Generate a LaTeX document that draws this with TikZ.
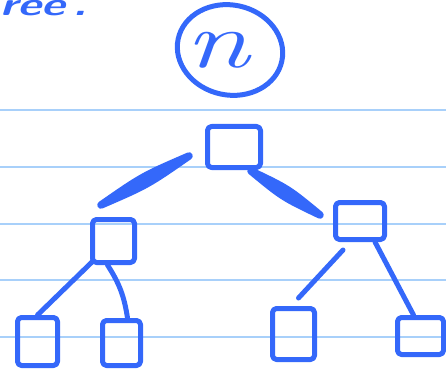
\documentclass[tikz,border=0pt]{standalone}
\usepackage{fontspec}
\usetikzlibrary{shapes.geometric,calc}
\definecolor{inkblue}{RGB}{52,104,250}
\definecolor{rulecol}{RGB}{168,208,250}
\begin{document}
\begin{tikzpicture}[x=1pt,y=-1pt,
  ink/.style={draw=inkblue, line width=5pt, line cap=round, line join=round},
  box/.style={ink, rounded corners=4pt, inner sep=0pt},
  edge/.style={ink},
  thickedge/.style={draw=inkblue, fill=inkblue, line width=7.5pt, line cap=round, line join=round},
  rule/.style={draw=rulecol, line width=2pt}]
\useasboundingbox (0,0) rectangle (446,374);
% ruled paper
\foreach \yy in {110.5,167,223.5,280,336.5} \draw[rule] (0,\yy) -- (446,\yy);
% title fragment
\node[anchor=base west, inner sep=0pt, text=inkblue, font=\sffamily\bfseries\itshape\fontsize{32}{32}\selectfont] (title) at (0,16) {\scalebox{1.45}[1]{ree\,.}};
% root circle with n
\node[ink, ellipse, minimum width=106pt, minimum height=90pt, rotate=-12] (top) at (230,50) {};
\node[text=inkblue, inner sep=0pt, font=\itshape\fontsize{80}{80}\selectfont] (nlabel) at (217,50) {\scalebox{1.45}[1]{n}};
% boxes
\node[box, minimum width=53pt, minimum height=41pt] (root) at (234,147) {};
\node[box, minimum width=42pt, minimum height=43pt] (lc) at (113.5,241) {};
\node[box, minimum width=49pt, minimum height=37pt] (rc) at (360,221) {};
\node[box, minimum width=40pt, minimum height=48pt] (l1) at (37.5,341.5) {};
\node[box, minimum width=38pt, minimum height=45pt] (l2) at (121.5,343) {};
\node[box, minimum width=42pt, minimum height=51pt] (l3) at (293.5,334) {};
\node[box, minimum width=46pt, minimum height=37pt] (l4) at (420.5,336) {};
% thick edges from root
\coordinate (la) at ([shift={(-16,9)}]root.west);
\coordinate (lb) at ([shift={(11,-12)}]lc.north west);
\path[thickedge] (la) .. controls ($(la)!0.5!(lb)!5pt!90:(lb)$) .. (lb) .. controls ($(la)!0.5!(lb)!5pt!-90:(lb)$) .. (la) -- cycle;
\coordinate (ra) at ([shift={(17,1)}]root.south);
\coordinate (rb) at ([shift={(-13,-6)}]rc.west);
\path[thickedge] (ra) .. controls ($(ra)!0.5!(rb)!5pt!90:(rb)$) .. (rb) .. controls ($(ra)!0.5!(rb)!5pt!-90:(rb)$) .. (ra) -- cycle;
% thin edges
\draw[edge] ([shift={(2,-3)}]lc.south west) -- (l1.north);
\draw[edge] ([xshift=-6pt]lc.south) to[bend left=12] ([xshift=6pt]l2.north);
\draw[edge] ([shift={(-17,8)}]rc.south) -- ([shift={(5,-8)}]l3.north);
\draw[edge] ([xshift=15pt]rc.south) -- ([xshift=-7pt]l4.north);
\end{tikzpicture}
\end{document}
